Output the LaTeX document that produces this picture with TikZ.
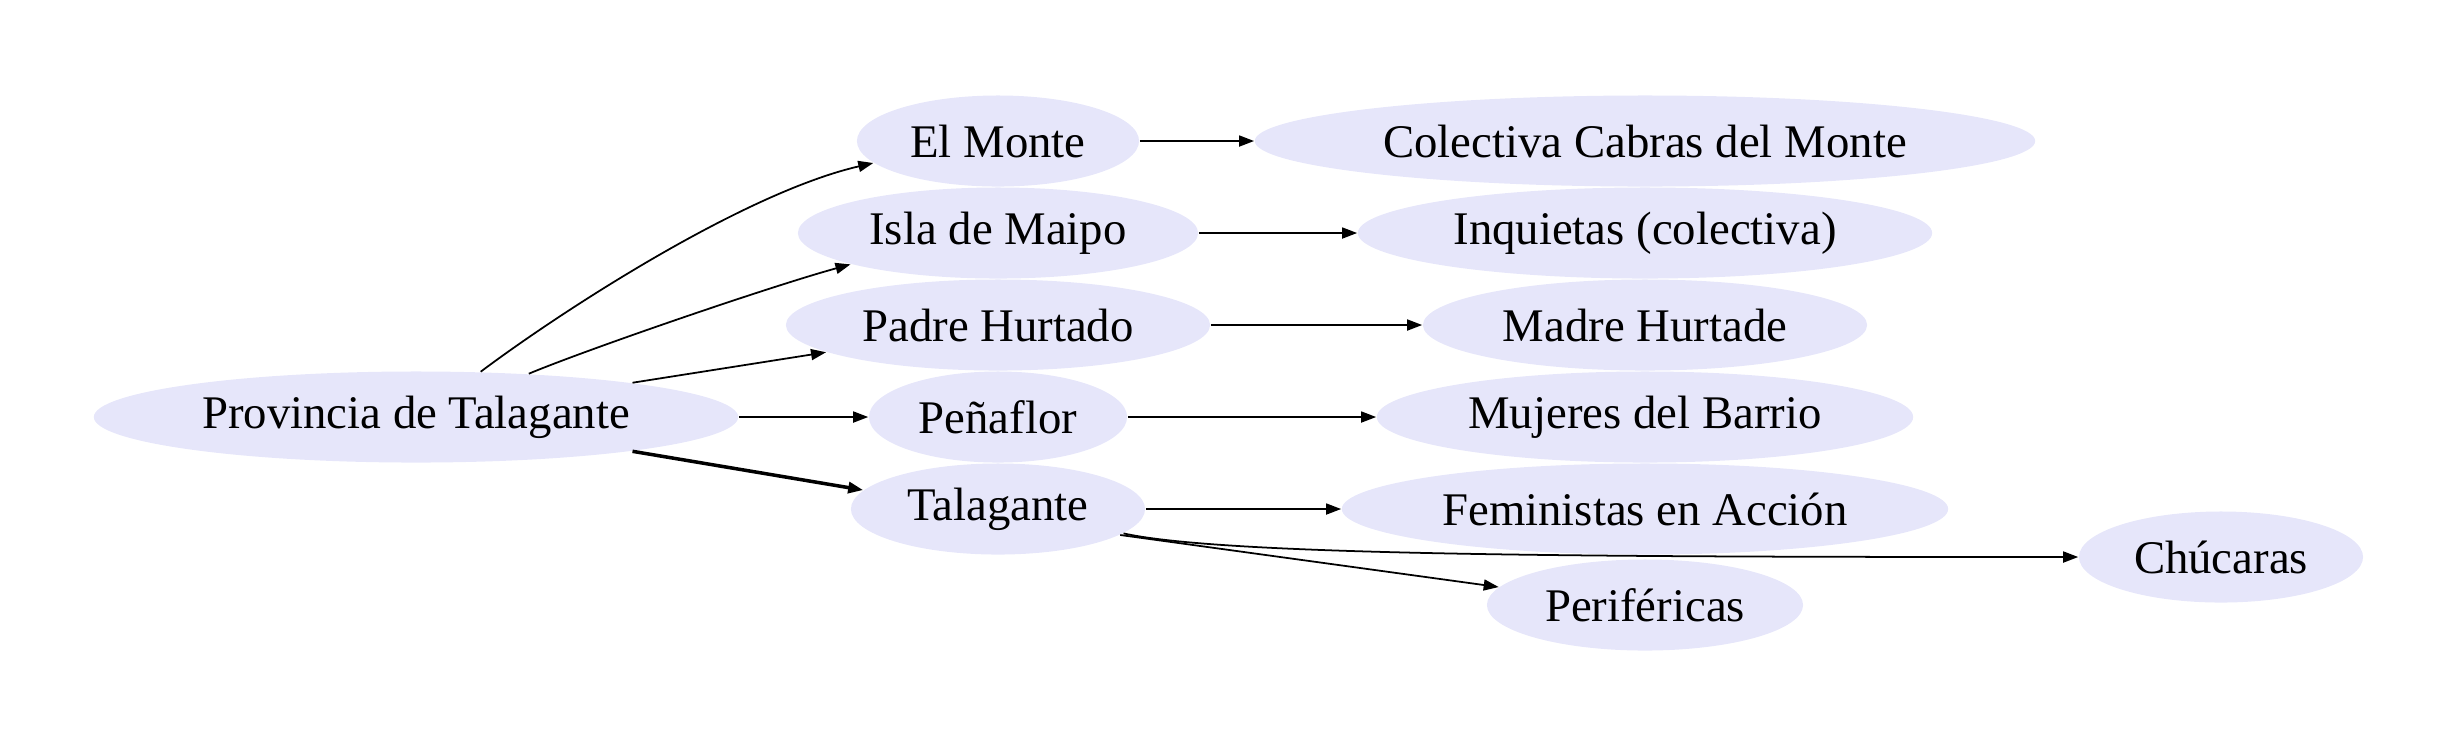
\documentclass[tikz,border=0pt]{standalone}
\usepackage{fontspec}
\setmainfont{Liberation Serif}
\usepackage{tikz}
\usetikzlibrary{shapes.geometric,arrows.meta}
\definecolor{myLavender}{HTML}{E6E6FA}
\tikzset{
myPlace/.style={
	ellipse,fill=myLavender,draw=none,
	inner sep=0pt,minimum height=9.1mm,
	font=\fontsize{13.3}{16}\selectfont
}
% link
, myEdge/.style={-{Triangle[length=1.5mm,width=1.1mm]},line width=0.5pt}
, myEdgeThick/.style={myEdge,line width=1pt}
}

\begin{document}
\begin{tikzpicture}[x=0.01cm,y=-0.01cm]
	\useasboundingbox (0,0) rectangle (2459,747);
	% nodes
	\node[myPlace,minimum width=6.44cm] (Prov) at (416,417) {Provincia de Talagante};
	\node[myPlace,minimum width=2.82cm] (ElMonte) at (998,141) {El Monte};
	\node[myPlace,minimum width=4.00cm] (Isla) at (998,233) {Isla de Maipo};
	\node[myPlace,minimum width=4.24cm] (Padre) at (998,325) {Padre Hurtado};
	\node[myPlace,minimum width=2.58cm] (Penaflor) at (998,417) {Peñaflor};
	\node[myPlace,minimum width=2.94cm] (Talagante) at (998,509) {Talagante};
	% groups
	\node[myPlace,minimum width=7.80cm] (Cabras) at (1645,141) {Colectiva Cabras del Monte};
	\node[myPlace,minimum width=5.74cm] (Inquietas) at (1645,233) {Inquietas (colectiva)};
	\node[myPlace,minimum width=4.44cm] (Madre) at (1645,325) {Madre Hurtade};
	\node[myPlace,minimum width=5.36cm] (Mujeres) at (1645,417) {Mujeres del Barrio};
	\node[myPlace,minimum width=6.06cm] (Feministas) at (1645,509) {Feministas en Acción};
	\node[myPlace,minimum width=3.16cm] (Perifericas) at (1645,605) {Periféricas};
	\node[myPlace,minimum width=2.84cm] (Chucaras) at (2221,557) {Chúcaras};

	% links
	\draw [myEdge] (Prov.35) .. controls +(80,-60) and +(-130,30) .. (ElMonte.190);
	\draw [myEdge] (Prov.21) .. controls +(60,-25) and +(-80,22) .. (Isla.192);
	\draw [myEdge] (Prov.9) -- (Padre.189);
	\draw [myEdge] (Prov.east) -- (Penaflor.west);
	\draw [myEdgeThick] (Prov.351) -- (Talagante.172);

	\draw [myEdge] (ElMonte.east) -- (Cabras.west);
	\draw [myEdge] (Isla.east) -- (Inquietas.west);
	\draw [myEdge] (Padre.east) -- (Madre.west);
	\draw [myEdge] (Penaflor.east) -- (Mujeres.west);
	\draw [myEdge] (Talagante.east) -- (Feministas.west);
	\draw [myEdge] (Talagante.348) -- (Perifericas.173);
	\draw [myEdge] (Talagante.349) .. controls +(100,22) and +(-500,0) .. (Chucaras.west);
\end{tikzpicture}
\end{document}
